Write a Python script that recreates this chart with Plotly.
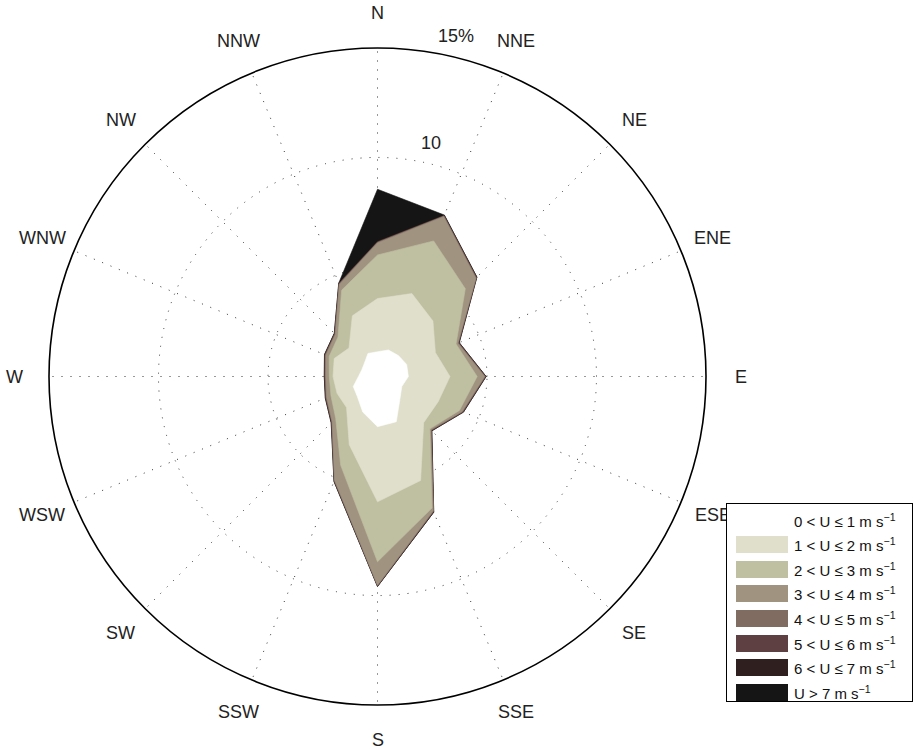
import numpy as np
import plotly.graph_objects as go

# Sixteen compass sectors, clockwise from north
directions = ["N", "NNE", "NE", "ENE", "E", "ESE", "SE", "SSE",
              "S", "SSW", "SW", "WSW", "W", "WNW", "NW", "NNW"]
angles = [i * 22.5 for i in range(16)]

# Frequency (%) of each wind-speed class per direction
u_0_1 = [1.13, 1.31, 1.35, 1.44, 1.41, 1.20, 1.45, 2.24, 2.29, 1.76, 1.30, 1.20, 0.87, 0.78, 0.85, 1.14]
u_1_2 = [2.43, 2.79, 2.23, 1.42, 1.90, 1.80, 1.53, 2.90, 3.43, 1.61, 0.70, 0.80, 1.16, 1.36, 0.99, 1.86]
u_2_3 = [1.99, 2.60, 2.09, 1.02, 1.24, 1.05, 0.40, 1.36, 2.74, 1.02, 0.70, 0.30, 0.17, 0.25, 0.71, 1.27]
u_3_4 = [0.55, 1.20, 0.68, 0.09, 0.34, 0.13, 0.06, 0.14, 1.06, 0.73, 0.22, 0.21, 0.16, 0.16, 0.17, 0.28]
u_4_5 = [0.03] * 16
u_5_6 = [0.02] * 16
u_6_7 = [0.02] * 16
u_gt_7 = [2.38, 0.01, 0, 0, 0, 0, 0, 0, 0, 0, 0, 0, 0, 0, 0, 0]

class_labels = ["0 < U ≤ 1 m s<sup>−1</sup>", "1 < U ≤ 2 m s<sup>−1</sup>",
                "2 < U ≤ 3 m s<sup>−1</sup>", "3 < U ≤ 4 m s<sup>−1</sup>",
                "4 < U ≤ 5 m s<sup>−1</sup>", "5 < U ≤ 6 m s<sup>−1</sup>",
                "6 < U ≤ 7 m s<sup>−1</sup>", "U > 7 m s<sup>−1</sup>"]
class_colors = ["#FFFFFF", "#DFDFCB", "#BFBFA1", "#A09481",
                "#806C60", "#5E3F42", "#2F1F1F", "#151515"]

r_max = 15
ring_values = [5, 10]
ring_labels = ["10", "15%"]
ring_label_r = [10.96, 15.98]
ring_label_theta = 13
direction_label_r = 16.58

W, H = 914, 749
cx, cy, R = 377.5, 376.5, 328.5
font = "Liberation Sans, Arial, Helvetica, sans-serif"


def to_paper(r, theta_deg):
    """Polar (value, compass degrees) -> paper coordinates."""
    rp = r / r_max * R
    t = np.radians(theta_deg)
    x = cx + rp * np.sin(t)
    y = cy - rp * np.cos(t)
    return x / W, 1 - y / H


classes = [u_0_1, u_1_2, u_2_3, u_3_4, u_4_5, u_5_6, u_6_7, u_gt_7]
cum = np.cumsum(np.array(classes), axis=0)

fig = go.Figure()

# Stacked areas, outermost first so inner classes sit on top
for k in range(len(classes) - 1, -1, -1):
    r = list(cum[k]) + [cum[k][0]]
    th = angles + [angles[0]]
    fig.add_trace(go.Scatterpolar(
        r=r, theta=th, mode="lines", fill="toself",
        fillcolor=class_colors[k],
        line=dict(color=class_colors[k], width=0.6),
        hoverinfo="skip", showlegend=False))

fig.update_layout(
    width=W, height=H, margin=dict(l=0, r=0, t=0, b=0),
    paper_bgcolor="white", plot_bgcolor="white", showlegend=False,
    polar=dict(
        domain=dict(x=[(cx - R) / W, (cx + R) / W],
                    y=[1 - (cy + R) / H, 1 - (cy - R) / H]),
        bgcolor="white",
        radialaxis=dict(range=[0, r_max], tickvals=ring_values, showticklabels=False,
                        ticks="", showline=False, gridcolor="#333", gridwidth=1,
                        griddash="1px,8px"),
        angularaxis=dict(direction="clockwise", rotation=90, tickmode="array",
                         tickvals=angles, showticklabels=False, ticks="",
                         showline=True, linecolor="black", linewidth=1.6,
                         gridcolor="#333", gridwidth=1, griddash="1px,8px"),
    ),
)

annotations = []
# Compass labels around the outer ring
for name, th in zip(directions, angles):
    x, y = to_paper(direction_label_r, th)
    annotations.append(dict(xref="paper", yref="paper", x=x, y=y,
                            xanchor="center", yanchor="middle", showarrow=False,
                            text=name, font=dict(family=font, size=18, color="#222")))
# Ring value labels
for lab, rv in zip(ring_labels, ring_label_r):
    x, y = to_paper(rv, ring_label_theta)
    annotations.append(dict(xref="paper", yref="paper", x=x, y=y,
                            xanchor="center", yanchor="middle", showarrow=False,
                            text=lab, font=dict(family=font, size=18, color="#222")))

# Legend: white framed box drawn over the compass labels, then swatches and text
bx0, bx1, by0, by1 = 726, 913, 503, 702
annotations.append(dict(xref="paper", yref="paper", x=bx0 / W, y=1 - by0 / H,
                        xanchor="left", yanchor="top", showarrow=False, text=" ",
                        width=bx1 - bx0 - 2, height=by1 - by0 - 2, borderpad=0,
                        bgcolor="white", bordercolor="black", borderwidth=1))
row0, step = 520, 24.6
sw_x0, sw_w, sw_h = 736, 52, 17
for i, (lab, col) in enumerate(zip(class_labels, class_colors)):
    yc = row0 + i * step
    annotations.append(dict(xref="paper", yref="paper", x=sw_x0 / W, y=1 - yc / H,
                            xanchor="left", yanchor="middle", showarrow=False, text=" ",
                            width=sw_w, height=sw_h, borderpad=0, borderwidth=0,
                            bgcolor=col))
    annotations.append(dict(xref="paper", yref="paper", x=792 / W, y=1 - yc / H,
                            xanchor="left", yanchor="middle", showarrow=False,
                            text=lab, font=dict(family=font, size=15, color="#111")))

fig.update_layout(annotations=annotations)

fig.write_html("out.html")
